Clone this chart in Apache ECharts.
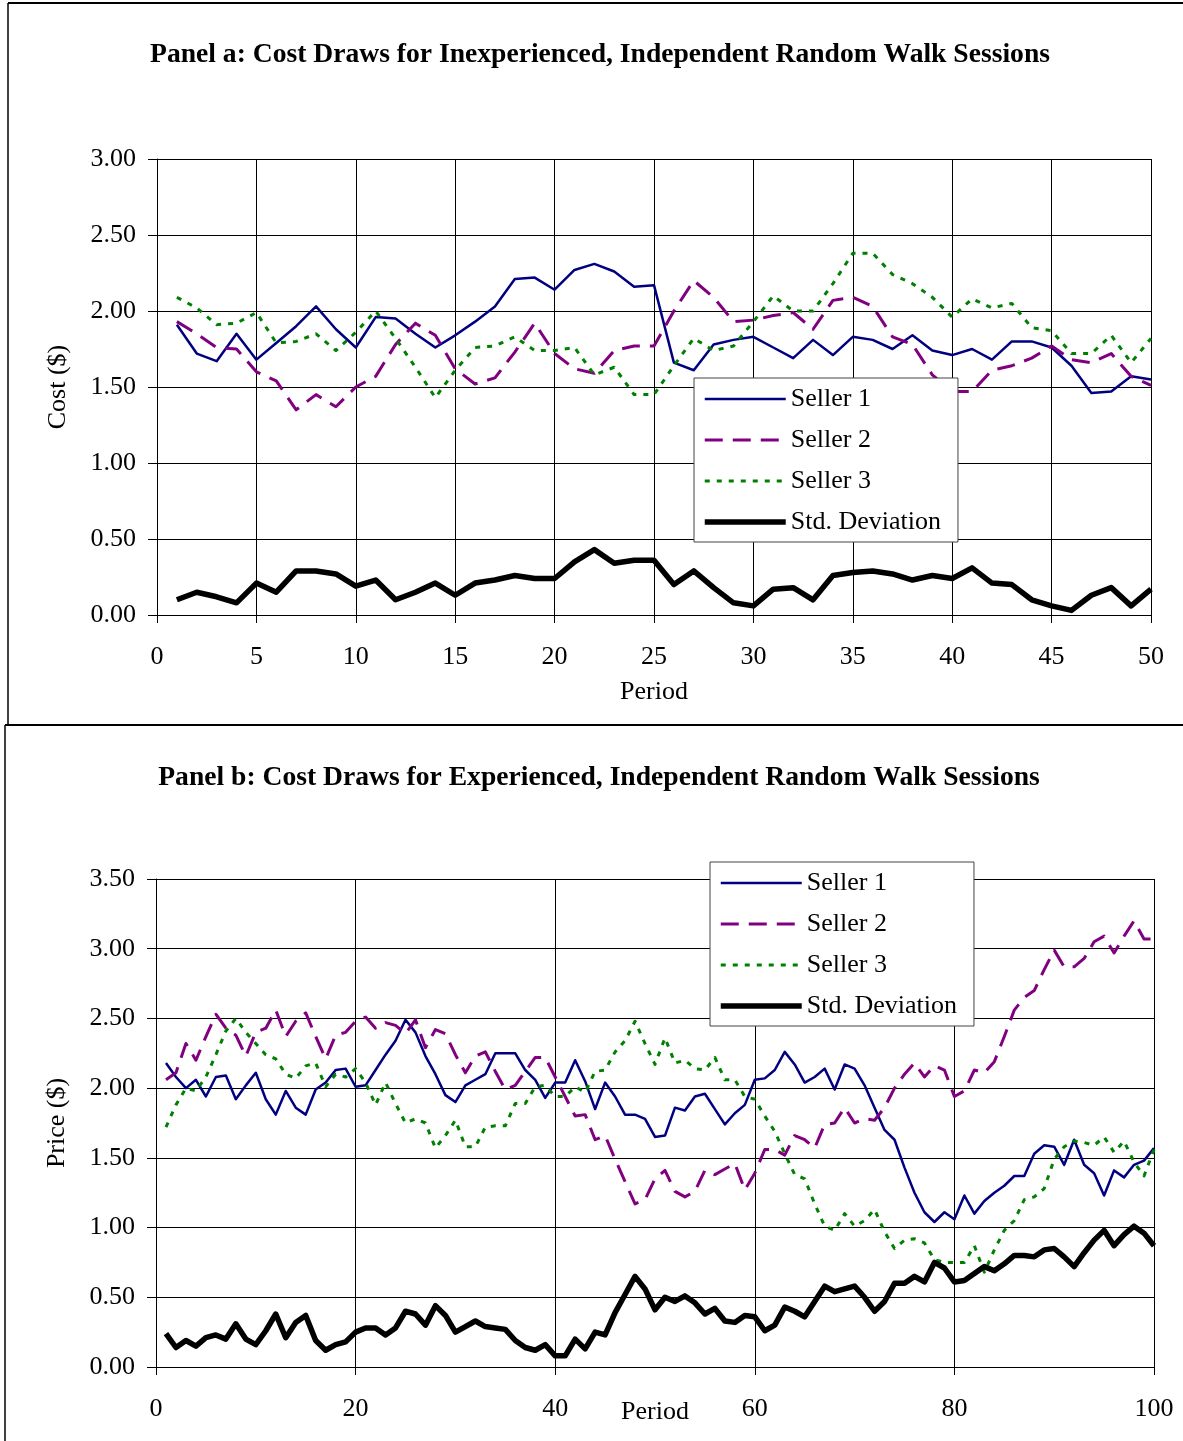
<!DOCTYPE html>
<html>
<head>
<meta charset="utf-8">
<title>Cost Draws for Independent Random Walk Sessions</title>
<script src="https://cdn.jsdelivr.net/npm/echarts@6/dist/echarts.min.js"></script>
<style>
  html, body { margin: 0; padding: 0; background: #fff; }
  #chart { width: 1183px; height: 1441px; }
</style>
</head>
<body>
<div id="chart"></div>
<script>
// ---- Series names and panel titles ----
const seriesNames = ['Seller 1', 'Seller 2', 'Seller 3', 'Std. Deviation'];
const titleA = 'Panel a: Cost Draws for Inexperienced, Independent Random Walk Sessions';
const titleB = 'Panel b: Cost Draws for Experienced, Independent Random Walk Sessions';

// ---- Panel a: periods 1..50 ----
const seller1A = [1.91, 1.72, 1.67, 1.85, 1.68, 1.79, 1.90, 2.03, 1.88, 1.76,
                  1.96, 1.95, 1.85, 1.76, 1.84, 1.93, 2.03, 2.21, 2.22, 2.14,
                  2.27, 2.31, 2.26, 2.16, 2.17, 1.66, 1.61, 1.78, 1.81, 1.83,
                  1.76, 1.69, 1.81, 1.71, 1.83, 1.81, 1.75, 1.84, 1.74, 1.71,
                  1.75, 1.68, 1.80, 1.80, 1.76, 1.64, 1.46, 1.47, 1.57, 1.55];
const seller2A = [1.93, 1.85, 1.76, 1.75, 1.60, 1.54, 1.35, 1.45, 1.37, 1.50,
                  1.57, 1.78, 1.92, 1.84, 1.62, 1.52, 1.56, 1.73, 1.92, 1.72,
                  1.62, 1.59, 1.74, 1.77, 1.77, 2.00, 2.20, 2.09, 1.93, 1.94,
                  1.97, 1.99, 1.88, 2.07, 2.09, 2.03, 1.83, 1.78, 1.58, 1.47,
                  1.47, 1.61, 1.64, 1.69, 1.77, 1.68, 1.66, 1.72, 1.57, 1.51];
const seller3A = [2.09, 2.02, 1.91, 1.92, 1.99, 1.79, 1.80, 1.85, 1.74, 1.86,
                  2.00, 1.82, 1.63, 1.43, 1.61, 1.76, 1.77, 1.83, 1.74, 1.74,
                  1.76, 1.58, 1.63, 1.45, 1.45, 1.64, 1.82, 1.74, 1.77, 1.93,
                  2.10, 2.00, 2.00, 2.18, 2.38, 2.38, 2.24, 2.18, 2.09, 1.96,
                  2.08, 2.02, 2.05, 1.89, 1.87, 1.72, 1.72, 1.84, 1.66, 1.82];
const stdDevA  = [0.10, 0.15, 0.12, 0.08, 0.21, 0.15, 0.29, 0.29, 0.27, 0.19,
                  0.23, 0.10, 0.15, 0.21, 0.13, 0.21, 0.23, 0.26, 0.24, 0.24,
                  0.35, 0.43, 0.34, 0.36, 0.36, 0.20, 0.29, 0.18, 0.08, 0.06,
                  0.17, 0.18, 0.10, 0.26, 0.28, 0.29, 0.27, 0.23, 0.26, 0.24,
                  0.31, 0.21, 0.20, 0.10, 0.06, 0.03, 0.13, 0.18, 0.06, 0.17];

// ---- Panel b: periods 1..100 ----
const seller1B = [2.18, 2.08, 2.00, 2.06, 1.94, 2.08, 2.09, 1.92, 2.02, 2.11,
                  1.92, 1.81, 1.98, 1.86, 1.81, 1.99, 2.04, 2.13, 2.14, 2.01,
                  2.02, 2.13, 2.24, 2.34, 2.49, 2.40, 2.23, 2.10, 1.95, 1.90,
                  2.02, 2.06, 2.10, 2.25, 2.25, 2.25, 2.13, 2.06, 1.93, 2.04,
                  2.04, 2.20, 2.05, 1.85, 2.04, 1.94, 1.81, 1.81, 1.78, 1.65,
                  1.66, 1.86, 1.84, 1.94, 1.96, 1.85, 1.74, 1.82, 1.88, 2.06,
                  2.07, 2.13, 2.26, 2.17, 2.04, 2.08, 2.14, 1.99, 2.17, 2.14,
                  2.02, 1.86, 1.70, 1.63, 1.43, 1.25, 1.11, 1.04, 1.11, 1.06,
                  1.23, 1.10, 1.19, 1.25, 1.30, 1.37, 1.37, 1.53, 1.59, 1.58,
                  1.45, 1.63, 1.45, 1.39, 1.23, 1.41, 1.36, 1.45, 1.48, 1.57];
const seller2B = [2.06, 2.11, 2.32, 2.20, 2.37, 2.53, 2.43, 2.38, 2.23, 2.40,
                  2.43, 2.56, 2.37, 2.48, 2.54, 2.37, 2.21, 2.38, 2.40, 2.48,
                  2.51, 2.43, 2.47, 2.45, 2.39, 2.49, 2.29, 2.42, 2.39, 2.24,
                  2.11, 2.23, 2.26, 2.12, 1.99, 2.02, 2.12, 2.22, 2.22, 2.08,
                  1.94, 1.80, 1.81, 1.63, 1.66, 1.49, 1.33, 1.17, 1.20, 1.35,
                  1.41, 1.26, 1.22, 1.26, 1.41, 1.38, 1.42, 1.46, 1.27, 1.39,
                  1.56, 1.56, 1.52, 1.66, 1.63, 1.57, 1.74, 1.75, 1.86, 1.75,
                  1.78, 1.77, 1.86, 2.00, 2.10, 2.18, 2.08, 2.16, 2.13, 1.94,
                  1.98, 2.13, 2.11, 2.19, 2.37, 2.56, 2.65, 2.70, 2.85, 2.99,
                  2.87, 2.87, 2.93, 3.05, 3.09, 2.97, 3.09, 3.20, 3.07, 3.07];
const seller3B = [1.72, 1.88, 2.00, 1.98, 2.08, 2.24, 2.41, 2.50, 2.40, 2.32,
                  2.24, 2.21, 2.10, 2.07, 2.16, 2.18, 2.01, 2.10, 2.08, 2.14,
                  2.04, 1.88, 2.04, 1.89, 1.75, 1.78, 1.75, 1.57, 1.66, 1.77,
                  1.58, 1.58, 1.72, 1.73, 1.73, 1.89, 1.89, 2.01, 2.02, 1.94,
                  1.94, 2.01, 1.97, 2.12, 2.13, 2.26, 2.34, 2.48, 2.32, 2.17,
                  2.36, 2.18, 2.20, 2.14, 2.13, 2.22, 2.06, 2.06, 1.94, 1.92,
                  1.80, 1.69, 1.53, 1.38, 1.35, 1.17, 1.01, 0.98, 1.10, 1.01,
                  1.05, 1.13, 0.97, 0.85, 0.91, 0.92, 0.89, 0.77, 0.75, 0.75,
                  0.75, 0.87, 0.68, 0.84, 0.98, 1.05, 1.20, 1.22, 1.28, 1.49,
                  1.58, 1.62, 1.61, 1.59, 1.65, 1.54, 1.62, 1.47, 1.37, 1.56];
const stdDevB  = [0.24, 0.14, 0.19, 0.15, 0.21, 0.23, 0.20, 0.31, 0.20, 0.16,
                  0.26, 0.38, 0.21, 0.32, 0.37, 0.19, 0.12, 0.16, 0.18, 0.25,
                  0.28, 0.28, 0.23, 0.28, 0.40, 0.38, 0.30, 0.44, 0.37, 0.25,
                  0.29, 0.33, 0.29, 0.28, 0.27, 0.19, 0.14, 0.12, 0.16, 0.08,
                  0.08, 0.20, 0.13, 0.25, 0.23, 0.39, 0.52, 0.65, 0.56, 0.41,
                  0.50, 0.47, 0.51, 0.46, 0.38, 0.42, 0.33, 0.32, 0.37, 0.36,
                  0.26, 0.30, 0.43, 0.40, 0.36, 0.47, 0.58, 0.54, 0.56, 0.58,
                  0.50, 0.40, 0.47, 0.60, 0.60, 0.65, 0.61, 0.75, 0.71, 0.61,
                  0.62, 0.67, 0.72, 0.69, 0.74, 0.80, 0.80, 0.79, 0.84, 0.85,
                  0.79, 0.72, 0.82, 0.91, 0.98, 0.87, 0.95, 1.01, 0.96, 0.87];

// ---- Styling ----
const FONT = "'Liberation Serif', 'Times New Roman', serif";
const lineLook = {
  'Seller 1':       { color: '#000080', width: 2.5, type: 'solid' },
  'Seller 2':       { color: '#800080', width: 3,   type: [18, 10] },
  'Seller 3':       { color: '#008000', width: 3,   type: [5, 7] },
  'Std. Deviation': { color: '#000000', width: 5.5, type: 'solid' }
};

// period number (1-based) paired with each value
const toPoints = vals => vals.map((v, i) => [i + 1, v]);

function makeSeries(name, vals, axisIndex) {
  const look = lineLook[name];
  return {
    name: name,
    type: 'line',
    xAxisIndex: axisIndex,
    yAxisIndex: axisIndex,
    data: toPoints(vals),
    symbol: 'none',
    smooth: false,
    silent: true,
    lineStyle: { color: look.color, width: look.width, type: look.type, cap: 'butt', join: 'round' },
    itemStyle: { color: look.color }
  };
}

function xAxisCfg(gridIndex, max, interval, nameGap) {
  return {
    type: 'value', gridIndex: gridIndex, min: 0, max: max, interval: interval,
    name: 'Period', nameLocation: 'middle', nameGap: nameGap, nameMoveOverlap: false,
    nameTextStyle: { fontFamily: FONT, fontSize: 26, color: '#000' },
    axisLine: { show: true, lineStyle: { color: '#000', width: 1 } },
    axisTick: { show: true, inside: false, length: 8, lineStyle: { color: '#000', width: 1 } },
    axisLabel: { fontFamily: FONT, fontSize: 26, color: '#000', margin: 29 },
    splitLine: { show: true, lineStyle: { color: '#000', width: 1 } }
  };
}

function yAxisCfg(gridIndex, name, max) {
  return {
    type: 'value', gridIndex: gridIndex, min: 0, max: max, interval: 0.5,
    name: name, nameLocation: 'middle', nameGap: 86, nameMoveOverlap: false,
    nameTextStyle: { fontFamily: FONT, fontSize: 26, color: '#000' },
    axisLine: { show: true, lineStyle: { color: '#000', width: 1 } },
    axisTick: { show: true, inside: false, length: 9, lineStyle: { color: '#000', width: 1 } },
    axisLabel: { fontFamily: FONT, fontSize: 26, color: '#000', margin: 21,
                 formatter: v => v.toFixed(2) },
    splitLine: { show: true, lineStyle: { color: '#000', width: 1 } }
  };
}

function legendCfg(left, top) {
  return {
    orient: 'vertical', left: left, top: top,
    padding: [8, 17, 7, 8], itemGap: 15, itemWidth: 81, itemHeight: 14,
    backgroundColor: '#fff', borderColor: '#444', borderWidth: 1, borderRadius: 0,
    selectedMode: false,
    textStyle: { fontFamily: FONT, fontSize: 26, color: '#000' },
    itemStyle: { opacity: 0 },
    data: seriesNames.map(n => ({ name: n, lineStyle: { width: lineLook[n].width } }))
  };
}

const titleStyle = { fontFamily: FONT, fontSize: 27.6, fontWeight: 'bold', color: '#000' };

const option = {
  animation: false,
  backgroundColor: '#fff',
  textStyle: { fontFamily: FONT },
  title: [
    { text: titleA, left: 595, top: 36, textAlign: 'center', textStyle: titleStyle },
    { text: titleB, left: 594, top: 759, textAlign: 'center', textStyle: titleStyle }
  ],
  grid: [
    { left: 157, top: 159, width: 994, height: 456, outerBoundsMode: 'none', containLabel: false },
    { left: 156, top: 879, width: 998, height: 488, outerBoundsMode: 'none', containLabel: false }
  ],
  xAxis: [ xAxisCfg(0, 50, 5, 64), xAxisCfg(1, 100, 20, 32) ],
  yAxis: [ yAxisCfg(0, 'Cost ($)', 3), yAxisCfg(1, 'Price ($)', 3.5) ],
  legend: [ legendCfg(694, 378), legendCfg(710, 862) ],
  series: [
    makeSeries('Seller 1', seller1A, 0),
    makeSeries('Seller 2', seller2A, 0),
    makeSeries('Seller 3', seller3A, 0),
    makeSeries('Std. Deviation', stdDevA, 0),
    makeSeries('Seller 1', seller1B, 1),
    makeSeries('Seller 2', seller2B, 1),
    makeSeries('Seller 3', seller3B, 1),
    makeSeries('Std. Deviation', stdDevB, 1)
  ],
  // page frame around the two panels
  graphic: [
    { type: 'line', silent: true, shape: { x1: 8, y1: 3, x2: 1183, y2: 3 }, style: { stroke: '#000', lineWidth: 2 } },
    { type: 'line', silent: true, shape: { x1: 8, y1: 3, x2: 8, y2: 725 }, style: { stroke: '#000', lineWidth: 1.5 } },
    { type: 'line', silent: true, shape: { x1: 5, y1: 725, x2: 1183, y2: 725 }, style: { stroke: '#000', lineWidth: 2 } },
    { type: 'line', silent: true, shape: { x1: 5, y1: 725, x2: 5, y2: 1441 }, style: { stroke: '#000', lineWidth: 1.5 } }
  ]
};

const chart = echarts.init(document.getElementById('chart'), null, { renderer: 'canvas' });
chart.setOption(option);
</script>
</body>
</html>
